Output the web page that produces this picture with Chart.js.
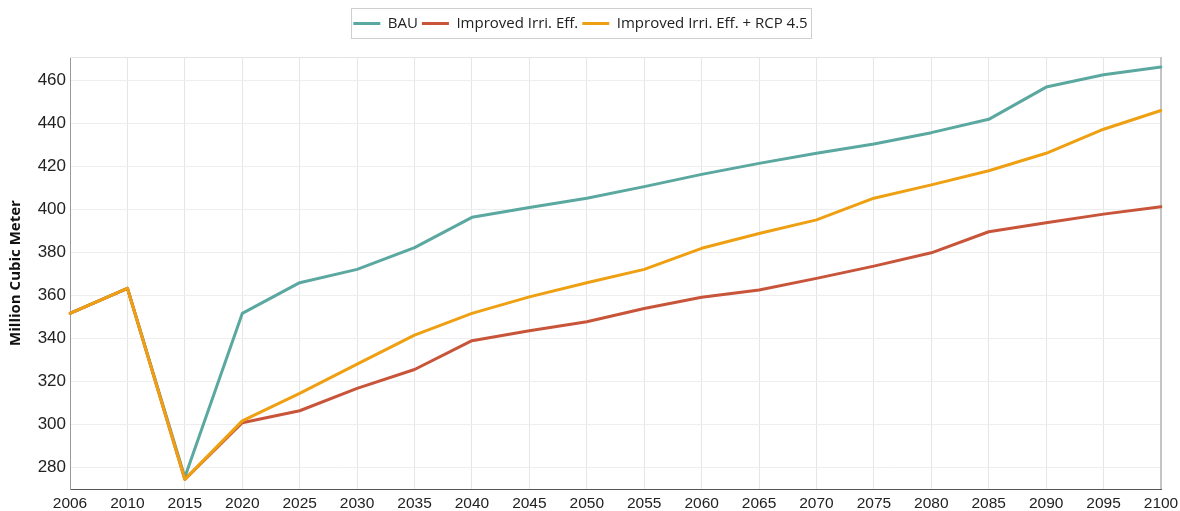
<!DOCTYPE html>
<html>
<head>
<meta charset="utf-8">
<script src="https://cdn.jsdelivr.net/npm/chart.js@4/dist/chart.umd.min.js"></script>
<style>
  html, body { margin: 0; padding: 0; background: #ffffff; }
  #wrap { width: 1180px; height: 511px; }
</style>
</head>
<body>
<div id="wrap"><canvas id="c" width="1180" height="511"></canvas></div>
<script>
const years = ['2006','2010','2015','2020','2025','2030','2035','2040','2045','2050',
               '2055','2060','2065','2070','2075','2080','2085','2090','2095','2100'];
const bau = [351.7, 363.4, 275.5, 351.7, 366.0, 372.2, 382.3, 396.4, 401.0, 405.3,
             410.7, 416.4, 421.5, 426.2, 430.5, 435.8, 442.0, 457.0, 462.7, 466.3];
const improvedIrri = [351.7, 363.4, 274.5, 300.8, 306.4, 316.8, 325.6, 339.0, 343.6, 347.8,
                      354.0, 359.2, 362.6, 368.0, 373.7, 379.9, 389.7, 393.9, 397.9, 401.3];
const improvedRcp45 = [351.7, 363.4, 274.5, 301.7, 314.5, 328.1, 341.6, 351.7, 359.4, 366.0,
                       372.2, 382.0, 388.9, 395.2, 405.3, 411.5, 418.1, 426.2, 437.4, 446.1];
const yTickValues = [280, 300, 320, 340, 360, 380, 400, 420, 440, 460];
const seriesNames = ['BAU', 'Improved Irri. Eff.', 'Improved Irri. Eff. + RCP 4.5'];
const yTitle = 'Million Cubic Meter';

const legendBox = {
  id: 'legendBox',
  afterDraw(chart) {
    const lg = chart.legend;
    if (!lg || !lg.legendHitBoxes || !lg.legendHitBoxes.length) return;
    const hb = lg.legendHitBoxes;
    let l = Infinity, r = -Infinity, t = Infinity, b = -Infinity;
    hb.forEach(h => {
      l = Math.min(l, h.left); r = Math.max(r, h.left + h.width);
      t = Math.min(t, h.top); b = Math.max(b, h.top + h.height);
    });
    const ctx = chart.ctx;
    ctx.save();
    ctx.strokeStyle = '#cfcfcf';
    ctx.lineWidth = 1;
    ctx.strokeRect(Math.round(l - 2) + 0.5, Math.round(t - 8) + 0.5, Math.round(r - l + 6), Math.round(b - t + 15));
    ctx.restore();
  }
};

const frame = {
  id: 'frame',
  beforeDatasetsDraw(chart) {
    const a = chart.chartArea, ctx = chart.ctx;
    ctx.save();
    ctx.strokeStyle = '#e4e4e4';
    ctx.lineWidth = 1;
    ctx.beginPath();
    ctx.moveTo(a.left, Math.round(a.top) + 0.5);
    ctx.lineTo(a.right, Math.round(a.top) + 0.5);
    ctx.stroke();
    ctx.strokeStyle = '#c4c4c4';
    ctx.lineWidth = 2;
    ctx.beginPath();
    ctx.moveTo(a.right, a.top);
    ctx.lineTo(a.right, a.bottom);
    ctx.stroke();
    ctx.restore();
  }
};

new Chart(document.getElementById('c'), {
  type: 'line',
  data: {
    labels: years,
    datasets: [
      { label: seriesNames[0], data: bau, borderColor: '#5ba8a0', backgroundColor: '#5ba8a0', borderWidth: 3, order: 3 },
      { label: seriesNames[1], data: improvedIrri, borderColor: '#c8553a', backgroundColor: '#c8553a', borderWidth: 3, order: 2 },
      { label: seriesNames[2], data: improvedRcp45, borderColor: '#eea012', backgroundColor: '#eea012', borderWidth: 3, order: 1 }
    ]
  },
  options: {
    responsive: false,
    animation: false,
    devicePixelRatio: 1,
    layout: { padding: { top: 12, right: 19, bottom: 0, left: 0 } },
    elements: {
      point: { radius: 0, hoverRadius: 0 },
      line: { tension: 0, fill: false, borderCapStyle: 'round', borderJoinStyle: 'round' }
    },
    plugins: {
      tooltip: { enabled: false },
      title: { display: true, text: '', weight: 500, font: { size: 10, lineHeight: 1 }, padding: { top: 0, bottom: 6 } },
      legend: {
        display: true,
        position: 'top',
        labels: {
          usePointStyle: true,
          pointStyle: 'line',
          pointStyleWidth: 27,
          boxHeight: 15,
          padding: 4,
          color: '#222',
          font: { family: '"Open Sans", "Noto Sans", sans-serif', size: 15 },
          sort: (a, b) => a.datasetIndex - b.datasetIndex
        }
      }
    },
    scales: {
      x: {
        type: 'category',
        offset: false,
        grid: { color: '#e6e6e6', drawTicks: false },
        border: { color: '#555555', width: 1 },
        ticks: {
          autoSkip: false, maxRotation: 0, minRotation: 0, padding: 5, color: '#222',
          font: { family: '"Liberation Sans", Arial, sans-serif', size: 15.5 }
        },
        afterFit(scale) { scale.height = 22; scale.paddingRight = 0; scale.paddingLeft = 0; }
      },
      y: {
        type: 'linear',
        min: 270,
        max: 471,
        grid: { color: '#eeeeee', drawTicks: false },
        border: { color: '#999999', width: 1 },
        afterBuildTicks(scale) { scale.ticks = yTickValues.map(v => ({ value: v })); },
        ticks: {
          padding: 4, color: '#222',
          font: { family: '"Liberation Sans", Arial, sans-serif', size: 17 }
        },
        title: {
          display: true,
          text: yTitle,
          color: '#111',
          padding: { top: 7, bottom: 0 },
          font: { family: '"Open Sans", "Noto Sans", sans-serif', size: 15, weight: 'bold' }
        },
        afterFit(scale) { scale.width = 70; }
      }
    }
  },
  plugins: [legendBox, frame]
});
</script>
</body>
</html>
